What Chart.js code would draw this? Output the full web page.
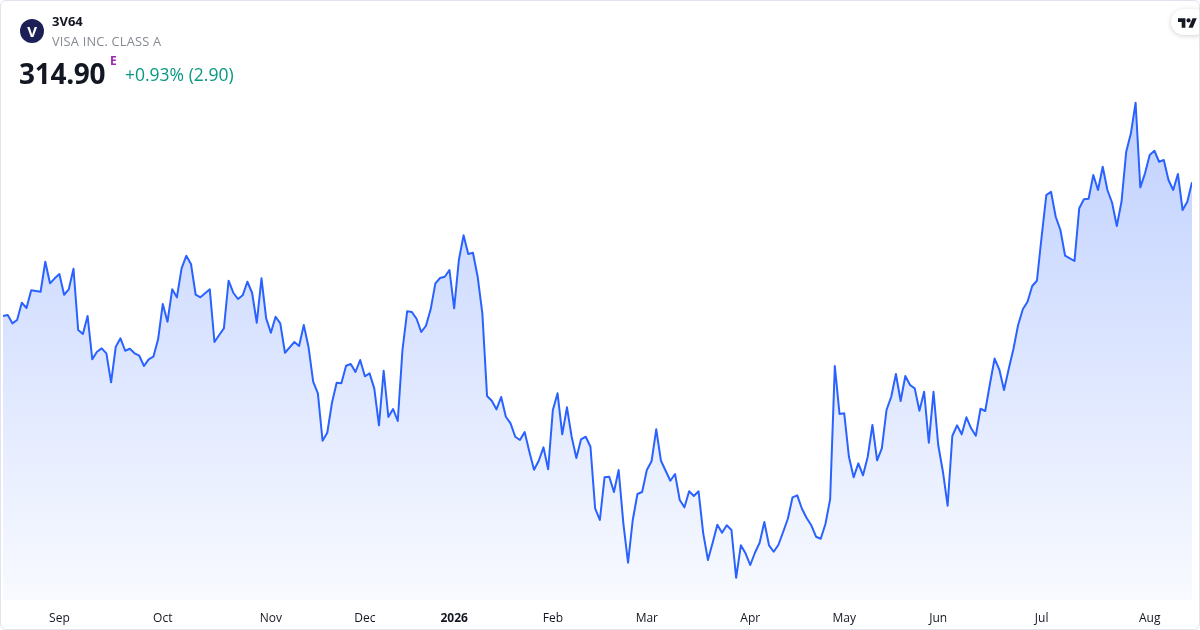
<!DOCTYPE html>
<html>
<head>
<meta charset="utf-8">
<script src="https://cdn.jsdelivr.net/npm/chart.js@4.4.1/dist/chart.umd.min.js"></script>
<style>
  html, body { margin: 0; padding: 0; background: #fff; }
  #card { position: absolute; left: 0; top: 0; width: 1198px; height: 628px; border: 1px solid #e0e3eb; border-radius: 6px; overflow: hidden; font-family: "Open Sans", "Noto Sans", sans-serif; }
  #wrap { position: absolute; left: 0; top: 0; width: 1198px; height: 628px; }
  .abs { position: absolute; white-space: nowrap; }
  #logo { left: 19px; top: 18px; width: 24px; height: 24px; border-radius: 50%; background: #1c2057; color: #fff; font-weight: 700; font-size: 15px; line-height: 24px; text-align: center; }
  #sym { left: 51px; top: 11px; font-size: 13px; font-weight: 700; color: #131722; }
  #name { left: 51px; top: 31px; font-size: 12.8px; color: #868993; letter-spacing: 0.2px; }
  #price { left: 18px; top: 53px; font-size: 28px; font-weight: 700; color: #131722; letter-spacing: -0.3px; }
  #flag { left: 109px; top: 51px; font-size: 12px; font-weight: 700; color: #9c27b0; }
  #chg { left: 124px; top: 61px; font-size: 17.5px; color: #089981; }
  #tv { right: -8px; top: 8px; width: 36px; height: 26px; border-radius: 13px; background: #fff; box-shadow: 0 1px 5px rgba(0,0,0,0.18); }
  #tv svg { position: absolute; left: 7px; top: 7px; }
</style>
</head>
<body>
<div id="card">
  <div id="wrap"><canvas id="myChart" width="1198" height="628"></canvas></div>
  <div class="abs" id="logo">V</div>
  <div class="abs" id="sym">3V64</div>
  <div class="abs" id="name">VISA INC. CLASS A</div>
  <div class="abs" id="price">314.90</div>
  <div class="abs" id="flag">E</div>
  <div class="abs" id="chg">+0.93% (2.90)</div>
  <div class="abs" id="tv"><svg width="19" height="12" viewBox="0 0 36 22"><path d="M14 22H7V11H0V4h14v18zM28 22h-8l7.5-18h8L28 22z" fill="#131722"/><circle cx="20" cy="8" r="4" fill="#131722"/></svg></div>
</div>
<script>
// daily closes, one per trading session (EUR)
var closes = [
  294.85, 295.00, 293.75, 294.25, 296.84, 296.05, 298.70, 298.60, 298.49, 302.99,
  299.75, 300.50, 301.15, 298.04, 298.85, 301.94, 292.75, 292.15, 294.85, 288.35,
  289.49, 290.00, 289.25, 284.90, 290.24, 291.50, 289.64, 289.94, 289.25, 288.89,
  287.35, 288.35, 288.74, 291.35, 296.65, 293.99, 298.85, 297.65, 302.00, 303.89,
  302.65, 298.04, 297.65, 298.25, 298.85, 290.95, 292.00, 293.00, 300.14, 298.34,
  297.40, 297.95, 299.99, 298.34, 293.84, 300.50, 294.50, 292.34, 294.74, 293.75,
  289.34, 290.15, 290.95, 290.35, 293.50, 290.24, 284.99, 283.25, 276.14, 277.34,
  281.84, 284.84, 284.75, 287.39, 287.65, 286.45, 288.25, 285.80, 286.25, 284.00,
  278.45, 286.64, 279.70, 280.90, 279.10, 289.75, 295.55, 295.45, 294.44, 292.45,
  293.39, 295.85, 299.75, 300.55, 300.74, 301.75, 296.00, 303.25, 306.95, 304.15,
  304.34, 300.74, 295.25, 282.85, 282.14, 280.85, 282.70, 279.74, 278.75, 276.74,
  276.25, 277.45, 274.49, 271.79, 273.14, 275.15, 271.85, 280.75, 283.25, 277.10,
  281.15, 276.74, 273.55, 276.35, 276.74, 275.24, 266.00, 264.25, 270.65, 270.74,
  268.45, 271.75, 263.75, 257.84, 264.25, 268.15, 268.45, 271.75, 273.05, 277.85,
  273.14, 271.64, 270.14, 271.15, 267.25, 266.15, 268.55, 267.85, 268.55, 262.25,
  258.25, 260.84, 263.54, 262.34, 263.45, 262.75, 255.59, 260.45, 259.25, 257.50,
  259.34, 260.84, 263.95, 260.45, 259.49, 260.54, 262.45, 264.44, 267.65, 267.95,
  265.94, 264.55, 263.45, 261.74, 261.44, 263.65, 267.35, 287.35, 280.15, 280.25,
  273.74, 270.65, 272.75, 270.95, 273.74, 278.50, 273.20, 275.00, 280.75, 282.74,
  286.15, 282.10, 285.85, 284.50, 284.00, 280.64, 283.49, 275.84, 283.49, 275.50,
  271.49, 266.39, 276.85, 278.45, 277.10, 279.65, 278.00, 276.89, 280.94, 280.60,
  284.65, 288.47, 286.82, 283.75, 286.90, 289.90, 293.50, 295.85, 296.99, 299.35,
  300.14, 306.74, 312.99, 313.49, 309.74, 307.75, 303.89, 303.50, 303.10, 311.00,
  312.35, 312.44, 316.00, 313.75, 317.24, 313.75, 311.84, 308.35, 311.99, 319.49,
  322.25, 326.84, 314.15, 316.25, 319.00, 319.64, 317.99, 318.25, 315.25, 313.75,
  316.15, 310.75, 312.00, 314.90
];

// session index where each month starts, and its label
var monthStart = [12, 34, 57, 77, 96, 117, 137, 159, 179, 199, 221, 244];
var monthLabels = ["Sep", "Oct", "Nov", "Dec", "2026", "Feb", "Mar", "Apr", "May", "Jun", "Jul", "Aug"];

var yMin = 252.25;
var yMax = 328.75;

var points = [];
for (var i = 0; i < closes.length; i++) {
  points.push({ x: i, y: closes[i] });
}

var ctx = document.getElementById("myChart").getContext("2d");

var chart = new Chart(ctx, {
  type: "line",
  data: {
    datasets: [{
      data: points,
      borderColor: "#2962ff",
      borderWidth: 2,
      borderJoinStyle: "round",
      pointRadius: 0,
      tension: 0,
      fill: "start",
      backgroundColor: function (c) {
        var area = c.chart.chartArea;
        if (!area) return "rgba(41,98,255,0.1)";
        var g = c.chart.ctx.createLinearGradient(0, area.top, 0, area.bottom);
        g.addColorStop(0, "rgba(41,98,255,0.30)");
        g.addColorStop(1, "rgba(41,98,255,0.03)");
        return g;
      }
    }]
  },
  options: {
    responsive: false,
    animation: false,
    layout: { padding: { left: 2, right: 7, top: 89, bottom: 0 } },
    plugins: { legend: { display: false }, tooltip: { enabled: false } },
    scales: {
      x: {
        type: "linear",
        min: 0,
        max: closes.length - 1,
        grid: { display: false, drawTicks: false },
        border: { display: false },
        afterBuildTicks: function (scale) {
          scale.ticks = monthStart.map(function (v) { return { value: v }; });
        },
        afterFit: function (scale) {
          scale.height = 29;
        },
        ticks: {
          autoSkip: false,
          maxRotation: 0,
          padding: 11,
          color: "#131722",
          font: function (c) {
            var bold = c.tick && c.tick.value === monthStart[4];
            return { family: "'Open Sans', 'Noto Sans', sans-serif", size: 12, weight: bold ? "bold" : "normal" };
          },
          callback: function (value) {
            var k = monthStart.indexOf(value);
            return k >= 0 ? monthLabels[k] : "";
          }
        }
      },
      y: {
        display: false,
        min: yMin,
        max: yMax
      }
    }
  }
});
</script>
</body>
</html>
